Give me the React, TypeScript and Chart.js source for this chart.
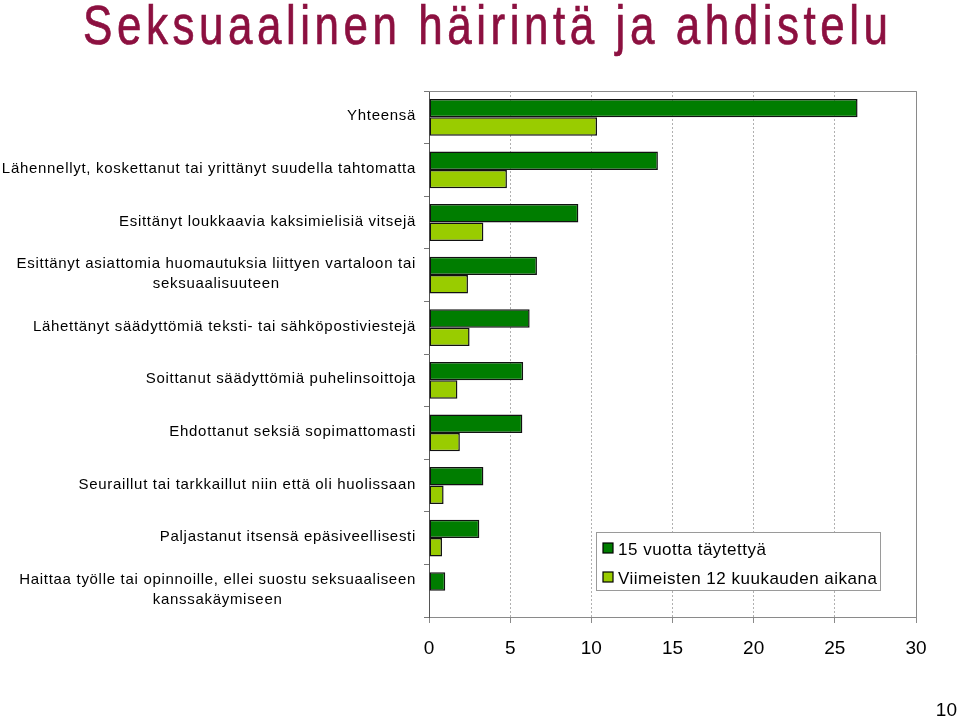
import React, { useEffect, useRef } from 'react';
import { Chart, registerables } from 'chart.js';

Chart.register(...registerables);

const titleText = 'Seksuaalinen häirintä ja ahdistelu';
const pageNumber = '10';

const categories: (string | string[])[] = [
  'Yhteensä',
  'Lähennellyt, koskettanut tai yrittänyt suudella tahtomatta',
  'Esittänyt loukkaavia kaksimielisiä vitsejä',
  ['Esittänyt asiattomia huomautuksia liittyen vartaloon tai', 'seksuaalisuuteen'],
  'Lähettänyt säädyttömiä teksti- tai sähköpostiviestejä',
  'Soittanut säädyttömiä puhelinsoittoja',
  'Ehdottanut seksiä sopimattomasti',
  'Seuraillut tai tarkkaillut niin että oli huolissaan',
  'Paljastanut itsensä epäsiveellisesti',
  ['Haittaa työlle tai opinnoille, ellei suostu seksuaaliseen', 'kanssakäymiseen'],
];

const seriesNames = ['15 vuotta täytettyä', 'Viimeisten 12 kuukauden aikana'];
const series15 = [26.4, 14.1, 9.2, 6.65, 6.2, 5.8, 5.75, 3.35, 3.1, 1.0];
const series12: (number | null)[] = [10.35, 4.8, 3.35, 2.4, 2.5, 1.75, 1.9, 0.9, 0.8, null];
const xTickValues = [0, 5, 10, 15, 20, 25, 30];

const colors = ['#007D00', '#99CC00'];
const FONT = '"Liberation Sans", Arial, sans-serif';

const decorPlugin = {
  id: 'decor',
  afterDraw(chart: any) {
    const ctx = chart.ctx as any;
    const area = chart.chartArea;
    const yScale = chart.scales.y;

    // plot frame (top + right)
    ctx.save();
    ctx.strokeStyle = '#8a8a8a';
    ctx.lineWidth = 1;
    ctx.beginPath();
    ctx.moveTo(area.left, area.top + 0.5);
    ctx.lineTo(area.right + 0.5, area.top + 0.5);
    ctx.lineTo(area.right + 0.5, area.bottom);
    ctx.stroke();
    ctx.restore();

    // category labels
    ctx.save();
    ctx.font = `15px ${FONT}`;
    ctx.letterSpacing = '0.7px';
    ctx.fillStyle = '#000';
    ctx.textBaseline = 'middle';
    const rightX = 416;
    const lh = 20;
    categories.forEach((lab, i) => {
      const lines = Array.isArray(lab) ? lab : [lab];
      const cy = yScale.getPixelForValue(i) - 1;
      const widths = lines.map((l) => ctx.measureText(l).width);
      const maxW = Math.max(...widths);
      lines.forEach((l, k) => {
        const y = cy + (k - (lines.length - 1) / 2) * lh;
        if (lines.length === 1) {
          ctx.textAlign = 'right';
          ctx.fillText(l, rightX, y);
        } else {
          ctx.textAlign = 'center';
          ctx.fillText(l, rightX - maxW / 2, y);
        }
      });
    });
    ctx.restore();

    // title (condensed)
    ctx.save();
    ctx.fillStyle = '#8C1040';
    ctx.strokeStyle = '#8C1040';
    ctx.textBaseline = 'alphabetic';
    ctx.textAlign = 'left';
    const target = 805;
    ctx.letterSpacing = '0px';
    ctx.font = `55px ${FONT}`;
    const wReg = ctx.measureText(titleText).width;
    const n = titleText.length;
    const baseScale = 0.8;
    const ls = Math.max(0, (target / baseScale - wReg) / (n - 1));
    ctx.letterSpacing = `${ls}px`;
    const w1 = ctx.measureText(titleText).width - ls;
    const sx = target / w1;
    ctx.translate(83, 44);
    ctx.scale(sx, 1);
    ctx.lineWidth = 0.7;
    ctx.fillText(titleText, 0, 0);
    ctx.strokeText(titleText, 0, 0);
    ctx.restore();

    // legend
    ctx.save();
    ctx.fillStyle = '#fff';
    ctx.fillRect(597, 533, 283, 58);
    ctx.strokeStyle = '#9a9a9a';
    ctx.lineWidth = 1;
    ctx.strokeRect(596.5, 532.5, 284, 58);
    ctx.font = `17px ${FONT}`;
    ctx.letterSpacing = '0.5px';
    ctx.textAlign = 'left';
    ctx.textBaseline = 'alphabetic';
    const items = [
      { y: 543, base: 555 },
      { y: 572, base: 584 },
    ];
    items.forEach((it, i) => {
      ctx.fillStyle = colors[i];
      ctx.fillRect(603, it.y, 10, 10);
      ctx.strokeStyle = '#000';
      ctx.lineWidth = 1.2;
      ctx.strokeRect(603, it.y, 10, 10);
      ctx.fillStyle = '#000';
      ctx.fillText(seriesNames[i], 618, it.base);
    });
    ctx.restore();

    // page number
    ctx.save();
    ctx.font = `19px ${FONT}`;
    ctx.fillStyle = '#000';
    ctx.textAlign = 'right';
    ctx.textBaseline = 'alphabetic';
    ctx.fillText(pageNumber, 957, 716);
    ctx.restore();
  },
};

export default function App() {
  const ref = useRef<HTMLCanvasElement | null>(null);

  useEffect(() => {
    if (!ref.current) return;
    const chart = new Chart(ref.current, {
      type: 'bar',
      data: {
        labels: categories as any,
        datasets: [
          {
            label: seriesNames[0],
            data: series15,
            backgroundColor: colors[0],
            borderColor: '#111',
            borderWidth: 1.5,
            borderSkipped: false,
            barPercentage: 1,
            categoryPercentage: 0.7,
          },
          {
            label: seriesNames[1],
            data: series12 as any,
            backgroundColor: colors[1],
            borderColor: '#111',
            borderWidth: 1.5,
            borderSkipped: false,
            barPercentage: 1,
            categoryPercentage: 0.7,
          },
        ],
      },
      options: {
        indexAxis: 'y',
        responsive: false,
        animation: false,
        maintainAspectRatio: false,
        layout: { padding: { top: 91, right: 44, left: 0, bottom: 0 } },
        plugins: {
          legend: { display: false },
          title: { display: false },
          tooltip: { enabled: false },
        },
        scales: {
          x: {
            type: 'linear',
            min: 0,
            max: 30,
            afterBuildTicks: (s: any) => {
              s.ticks = xTickValues.map((v) => ({ value: v }));
            },
            afterFit: (s: any) => {
              s.height = 102;
            },
            ticks: {
              color: '#000',
              font: { family: FONT, size: 19 },
              padding: 14,
            },
            grid: {
              color: '#b0b0b0',
              tickLength: 6,
              tickColor: '#8a8a8a',
              tickBorderDash: [],
            } as any,
            border: { color: '#8a8a8a', width: 1, dash: [2, 2] } as any,
          },
          y: {
            type: 'category',
            afterFit: (s: any) => {
              s.width = 429;
            },
            ticks: { display: false },
            grid: {
              drawOnChartArea: false,
              tickLength: 5,
              color: '#777',
              offset: true,
            },
            border: { color: '#555', width: 1 },
          },
        },
      },
      plugins: [decorPlugin],
    });
    return () => chart.destroy();
  }, []);

  return (
    <div style={{ position: 'absolute', left: 0, top: 0, width: 960, height: 719, background: '#fff' }}>
      <canvas ref={ref} width={960} height={719} style={{ display: 'block' }} />
    </div>
  );
}
